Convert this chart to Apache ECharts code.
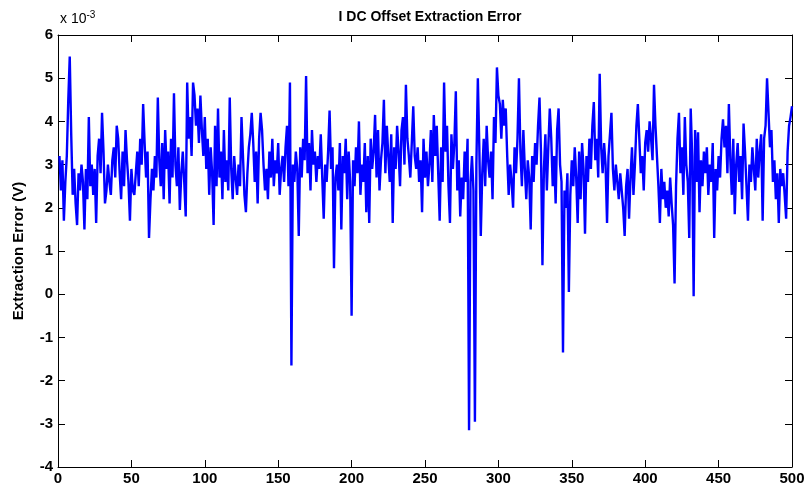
<!DOCTYPE html>
<html>
<head>
<meta charset="utf-8">
<script src="https://cdn.jsdelivr.net/npm/echarts@6/dist/echarts.min.js"></script>
<style>
html, body { margin: 0; padding: 0; background: #fff; }
#chart { width: 810px; height: 498px; }
</style>
</head>
<body>
<div id="chart"></div>
<script>
var xTicks = [0, 50, 100, 150, 200, 250, 300, 350, 400, 450, 500];
var yTicks = [-4, -3, -2, -1, 0, 1, 2, 3, 4, 5, 6];
// extraction error, units of 1e-3 V, samples 1..500
var errVals = [
  3.2, 2.4, 3.1, 1.7, 2.6, 3.2, 4.5, 5.5, 3.7, 2.3, 2.9, 2.1, 1.6, 2.8, 2.4, 3.0, 2.6, 1.5, 2.9, 2.2,
  4.1, 2.5, 3.0, 2.3, 2.9, 1.65, 3.2, 3.6, 2.8, 4.2, 3.3, 2.1, 2.4, 3.0, 2.6, 2.3, 3.1, 3.4, 2.7, 3.9,
  3.6, 2.8, 2.2, 3.3, 2.5, 3.8, 3.1, 2.6, 1.7, 2.9, 2.4, 2.3, 2.8, 3.3, 2.5, 3.6, 3.0, 4.4, 3.5, 2.7,
  3.3, 1.3, 2.2, 2.9, 2.4, 3.2, 2.7, 4.55, 3.1, 2.5, 3.5, 2.2, 3.8, 2.9, 3.3, 2.1, 3.6, 2.7, 4.65, 3.0,
  2.5, 3.4, 1.95, 2.8, 3.3, 2.6, 1.8, 4.9, 3.6, 4.1, 3.2, 4.9, 4.6, 3.9, 4.3, 3.5, 4.6, 3.8, 3.2, 4.1,
  2.9, 3.6, 2.3, 3.4, 2.8, 1.6, 3.9, 2.5, 4.3, 2.7, 3.3, 2.2, 3.8, 2.6, 3.1, 2.4, 4.55, 2.9, 2.2, 3.2,
  2.7, 2.3, 3.0, 2.5, 4.1, 3.2, 2.3, 1.9, 2.8, 3.4, 3.7, 4.2, 3.5, 2.6, 3.3, 2.1, 3.6, 4.2, 3.8, 3.0,
  2.4, 2.9, 2.2, 3.3, 2.7, 3.6, 2.5, 3.1, 2.8, 3.5, 2.3, 2.9, 3.2, 2.6, 3.4, 3.9, 2.5, 4.9, -1.65, 3.0,
  2.6, 3.3, 2.9, 1.35, 3.4, 2.7, 3.6, 3.1, 5.05, 2.8, 3.5, 2.4, 3.8, 3.0, 3.3, 2.6, 3.2, 2.9, 3.7, 2.7,
  1.75, 3.0, 2.6, 3.3, 4.25, 2.9, 3.4, 0.6, 2.7, 3.0, 2.4, 3.5, 1.5, 3.2, 2.8, 3.6, 2.2, 3.3, 2.6, -0.5,
  3.1, 2.5, 3.4, 2.8, 4.0, 2.3, 3.0, 2.6, 3.5, 1.9, 3.2, 1.65, 3.6, 2.9, 3.3, 4.15, 2.7, 3.8, 2.4, 3.1,
  3.5, 4.5, 2.8, 3.9, 3.2, 2.6, 3.7, 1.65, 3.4, 2.9, 3.9, 3.3, 2.5, 3.8, 4.1, 3.0, 4.85, 3.6, 3.2, 2.7,
  3.5, 4.35, 3.2, 2.9, 3.4, 2.6, 3.1, 1.9, 3.6, 2.7, 3.3, 2.5, 3.0, 3.8, 2.6, 4.15, 3.2, 3.9, 2.8, 1.7,
  3.4, 2.6, 4.9, 3.3, 3.9, 2.5, 1.65, 3.7, 2.9, 3.5, 4.7, 2.4, 3.1, 1.8, 2.7, 2.2, 3.3, 2.6, 3.6, -3.15,
  2.6, 3.2, 2.4, -2.95, 3.0, 5.0, 3.4, 1.35, 2.8, 3.6, 2.5, 3.9, 3.1, 2.7, 3.3, 2.2, 4.1, 3.5, 5.25, 4.6,
  4.4, 3.6, 4.5, 3.9, 4.3, 3.2, 2.3, 3.0, 2.6, 2.0, 3.4, 2.8, 3.6, 5.0, 3.3, 2.5, 3.8, 2.9, 2.2, 3.1,
  2.7, 1.5, 3.2, 2.6, 3.5, 3.0, 3.9, 4.55, 3.3, 0.67, 2.9, 3.7, 2.4, 3.4, 4.3, 3.6, 2.5, 3.2, 2.1, 3.8,
  4.3, 3.0, 2.6, -1.35, 2.4, 2.0, 2.8, 0.05, 2.3, 3.1, 2.5, 3.4, 2.7, 1.65, 3.3, 2.2, 3.5, 2.9, 1.4, 3.2,
  2.6, 3.6, 2.9, 3.9, 4.45, 3.1, 3.6, 2.7, 5.1, 3.4, 2.8, 3.5, 3.0, 1.65, 3.2, 3.7, 4.2, 2.9, 2.4, 3.0,
  2.6, 2.2, 2.8, 2.4, 2.0, 1.35, 2.5, 2.9, 1.75, 2.7, 3.4, 2.3, 3.0, 3.9, 4.4, 3.6, 2.8, 3.2, 2.4, 3.5,
  3.8, 3.3, 4.0, 3.6, 3.1, 4.85, 3.9, 3.2, 2.5, 1.65, 2.9, 2.2, 2.6, 2.0, 2.4, 1.8, 2.7, 2.1, 1.6, 0.25,
  2.5, 3.6, 4.2, 2.8, 3.4, 2.3, 4.1, 3.0, 2.6, 1.3, 4.3, 3.2, -0.05, 3.8, 2.6, 3.75, 1.9, 3.1, 2.5, 3.3,
  2.8, 3.4, 2.3, 3.0, 2.6, 3.5, 1.3, 2.9, 2.4, 3.2, 2.7, 3.6, 4.05, 3.4, 3.9, 2.8, 4.4, 3.1, 2.3, 3.6,
  1.85, 3.0, 3.5, 2.6, 3.2, 2.2, 3.95, 3.3, 2.5, 1.7, 3.0, 2.6, 3.4, 2.9, 2.4, 3.6, 2.7, 3.3, 3.7, 1.7,
  3.6, 3.9, 5.0, 4.2, 3.4, 3.8, 2.6, 3.1, 2.2, 2.8, 1.65, 2.9, 2.5, 2.8, 2.3, 1.75, 3.3, 3.9, 4.1, 4.35
];

var seriesData = errVals.map(function (v, i) { return [i + 1, v]; });

var myChart = echarts.init(document.getElementById('chart'));
var labelFont = { color: '#000', fontFamily: 'Liberation Sans', fontWeight: 'bold', fontSize: 15 };
function ticks() {
    return { show: true, inside: true, length: 7, lineStyle: { color: '#000', width: 1 } };
}
var option = {
    animation: false,
    backgroundColor: '#fff',
    title: {
        text: 'I DC Offset Extraction Error',
        left: 425,
        top: 5,
        textAlign: 'center',
        textStyle: { color: '#000', fontFamily: 'Liberation Sans', fontWeight: 'bold', fontSize: 14 }
    },
    graphic: [
        {
            type: 'text',
            left: 60,
            top: 10,
            style: {
                text: 'x 10{sup|-3}',
                fill: '#000',
                font: '14px "Liberation Sans"',
                rich: { sup: { fontSize: 10, verticalAlign: 'top', padding: [0, 0, 8, 0], fill: '#000' } }
            }
        }
    ],
    grid: {
        left: 58,
        right: 18,
        top: 35,
        bottom: 31
    },
    xAxis: [
        {
            type: 'value',
            position: 'bottom',
            min: xTicks[0],
            max: xTicks[xTicks.length - 1],
            interval: 50,
            axisLine: { show: true, onZero: false, lineStyle: { color: '#000' } },
            axisTick: ticks(),
            axisLabel: Object.assign({ margin: 4 }, labelFont),
            splitLine: { show: false }
        },
        {
            type: 'value',
            position: 'top',
            min: xTicks[0],
            max: xTicks[xTicks.length - 1],
            interval: 50,
            axisLine: { show: true, onZero: false, lineStyle: { color: '#000' } },
            axisTick: ticks(),
            axisLabel: { show: false },
            splitLine: { show: false }
        }
    ],
    yAxis: [
        {
            type: 'value',
            position: 'left',
            min: yTicks[0],
            max: yTicks[yTicks.length - 1],
            interval: 1,
            name: 'Extraction Error (V)',
            nameLocation: 'middle',
            nameGap: 32,
            nameTextStyle: { color: '#000', fontFamily: 'Liberation Sans', fontWeight: 'bold', fontSize: 15 },
            axisLine: { show: true, onZero: false, lineStyle: { color: '#000' } },
            axisTick: ticks(),
            axisLabel: Object.assign({ margin: 5 }, labelFont),
            splitLine: { show: false }
        },
        {
            type: 'value',
            position: 'right',
            min: yTicks[0],
            max: yTicks[yTicks.length - 1],
            interval: 1,
            axisLine: { show: true, onZero: false, lineStyle: { color: '#000' } },
            axisTick: ticks(),
            axisLabel: { show: false },
            splitLine: { show: false }
        }
    ],
    series: [
        {
            type: 'line',
            data: seriesData,
            showSymbol: false,
            symbol: 'none',
            lineStyle: { color: '#0000ff', width: 2.4 },
            itemStyle: { color: '#0000ff' }
        }
    ]
};
myChart.setOption(option);
window.addEventListener('resize', function () {
    myChart.resize();
});
</script>
</body>
</html>
